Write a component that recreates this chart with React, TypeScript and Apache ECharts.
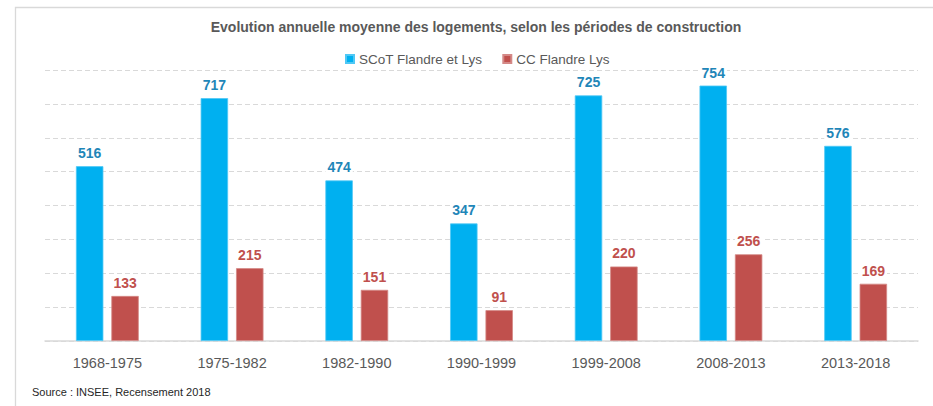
import React, { useEffect, useRef } from "react";
import * as echarts from "echarts";

const categories = ["1968-1975", "1975-1982", "1982-1990", "1990-1999", "1999-2008", "2008-2013", "2013-2018"];
const scotValues = [516, 717, 474, 347, 725, 754, 576];
const ccValues = [133, 215, 151, 91, 220, 256, 169];
const seriesNames = ["SCoT Flandre et Lys", "CC Flandre Lys"];
const titleText = "Evolution annuelle moyenne des logements, selon les périodes de construction";
const sourceText = "Source : INSEE, Recensement 2018";

const FONT = "'Liberation Sans', Arial, sans-serif";

export default function App() {
  const ref = useRef<HTMLDivElement>(null);
  useEffect(() => {
    if (!ref.current) return;
    const chart = echarts.init(ref.current, null, { renderer: "svg" });
    const labelBase = {
      show: true,
      position: "top",
      distance: 6,
      fontFamily: FONT,
      fontWeight: "bold",
      fontSize: 14,
      backgroundColor: "#ffffff",
      padding: [0, 2],
    };
    chart.setOption({
      animation: false,
      backgroundColor: "#ffffff",
      title: {
        text: titleText,
        left: 471,
        top: 15,
        textAlign: "center",
        textStyle: { fontFamily: FONT, fontSize: 14, fontWeight: "bold", color: "#595959" },
      },
      legend: {
        data: seriesNames,
        top: 47,
        left: 340,
        itemWidth: 8,
        itemHeight: 8,
        itemGap: 20,
        icon: "rect",
        textStyle: { fontFamily: FONT, fontSize: 13.5, color: "#595959" },
      },
      grid: { left: 45, right: 15, top: 70, bottom: 65, containLabel: false },
      xAxis: {
        type: "category",
        data: categories,
        axisLine: { lineStyle: { color: "#d9d9d9", width: 1.5 } },
        axisTick: { show: false },
        axisLabel: { fontFamily: FONT, fontSize: 14.5, color: "#595959", margin: 14 },
      },
      yAxis: {
        type: "value",
        min: 0,
        max: 800,
        interval: 100,
        axisLabel: { show: false },
        axisLine: { show: false },
        axisTick: { show: false },
        splitLine: { lineStyle: { color: "#d9d9d9", type: [5, 3], width: 1 } },
      },
      series: [
        {
          name: seriesNames[0],
          type: "bar",
          data: scotValues,
          barWidth: "22%",
          barGap: "29%",
          itemStyle: { color: "#00B0F0", borderColor: "#4fc8f5", borderWidth: 0.8 },
          label: { ...labelBase, color: "#1F86B8" },
        },
        {
          name: seriesNames[1],
          type: "bar",
          data: ccValues,
          barWidth: "22%",
          itemStyle: { color: "#C0504D", borderColor: "#d48987", borderWidth: 0.8 },
          label: { ...labelBase, color: "#C0504D" },
        },
      ],
      graphic: [
        {
          type: "rect",
          shape: { x: 15.5, y: 7.5, width: 960, height: 460 },
          style: { fill: "none", stroke: "#d9d9d9", lineWidth: 1.3 },
          silent: true,
          z: -10,
        },
        {
          type: "text",
          left: 32,
          top: 386,
          style: { text: sourceText, fontFamily: FONT, fontSize: 11, fill: "#262626" },
        },
      ],
    });
    return () => chart.dispose();
  }, []);
  return (
    <div
      ref={ref}
      style={{ position: "fixed", left: 0, top: 0, width: 933, height: 406, background: "#fff" }}
    />
  );
}
